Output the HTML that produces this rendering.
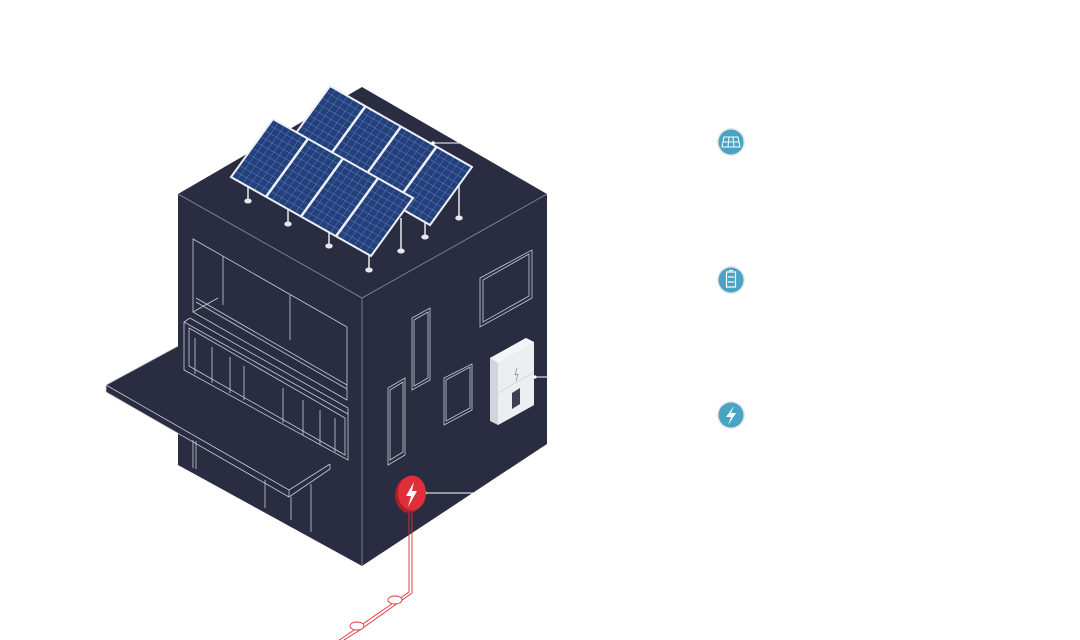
<!DOCTYPE html>
<html><head><meta charset="utf-8"><style>
html,body{margin:0;padding:0;background:#fff;width:1080px;height:640px;overflow:hidden}
svg{display:block}
</style></head><body>
<svg width="1080" height="640" viewBox="0 0 1080 640" xmlns="http://www.w3.org/2000/svg">
<!-- building -->
<polygon points="178,194 362,87 547,194 547,444 362,566 178,465" fill="#2a2d42"/>
<line x1="362" y1="298" x2="362" y2="566" stroke="#8a8da0" stroke-width="0.8"/>
<polyline points="178,194 362,298 547,194" fill="none" stroke="#8a8da0" stroke-width="0.8"/>
<!-- canopy (behind bay box) -->
<polygon points="106,385 178,346 330,464 330,469 289,497 106,392" fill="#2a2d42"/>
<polyline points="178,346 106,385 289,490 330,464" fill="none" stroke="#c9cbd6" stroke-width="0.8"/>
<polyline points="106,385 106,392 289,497 330,469 330,464" fill="none" stroke="#c9cbd6" stroke-width="0.8"/>
<line x1="289" y1="490" x2="289" y2="497" stroke="#c9cbd6" stroke-width="0.8"/>
<g fill="none" stroke="#c9cbd6" stroke-width="0.8">
<!-- left wall upper window -->
<polygon points="193,239 347,327 347,400 193,312"/>
<line x1="223" y1="256" x2="223" y2="305"/>
<line x1="290" y1="295" x2="290" y2="340"/>
<line x1="196" y1="298" x2="347" y2="385"/>
<line x1="196" y1="302" x2="347" y2="389"/>
<line x1="193" y1="312" x2="218" y2="298"/>
</g>
<!-- bay box -->
<polygon points="184,322 190,318 348,408 348,462 330,464 184,372" fill="#2a2d42"/>
<g fill="none" stroke="#c9cbd6" stroke-width="0.8">
<polygon points="184,322 348,414 348,460 184,370"/>
<polygon points="189,328 345,418 345,455 189,366"/>
<line x1="184" y1="322" x2="190" y2="318"/>
<line x1="190" y1="318" x2="348" y2="408"/>
<line x1="348" y1="408" x2="348" y2="414"/>
<line x1="195" y1="338" x2="195" y2="374"/>
<line x1="212" y1="347" x2="212" y2="383"/>
<line x1="230" y1="357" x2="230" y2="393"/>
<line x1="244" y1="366" x2="244" y2="400"/>
<line x1="283" y1="388" x2="283" y2="423"/>
<line x1="303" y1="400" x2="303" y2="435"/>
<line x1="320" y1="410" x2="320" y2="445"/>
<line x1="335" y1="418" x2="335" y2="452"/>
<!-- right wall windows -->
<polygon points="480,278 532,250 532,298 480,327"/>
<polygon points="483,280 529,254 529,296 483,322"/>
<polygon points="412,318 430,308 430,380 412,390"/>
<polygon points="414,320 428,312 428,378 414,386"/>
<polygon points="388,388 405,378 405,455 388,465"/>
<polygon points="390,390 403,382 403,452 390,460"/>
<polygon points="444,378 472,364 472,410 444,425"/>
<polygon points="446,380 470,367 470,408 446,421"/>
<!-- ground floor lines -->
<line x1="193" y1="440" x2="193" y2="468"/>
<line x1="196" y1="441" x2="196" y2="469"/>
<line x1="265" y1="480" x2="265" y2="508"/>
<line x1="291" y1="497" x2="291" y2="520"/>
<line x1="311" y1="484" x2="311" y2="532"/>
</g>
<!-- legs -->
<g stroke="#e6e8ee" stroke-width="1.5" fill="#e6e8ee">
<line x1="248" y1="182" x2="248" y2="200"/><ellipse cx="248" cy="201" rx="3" ry="1.8"/>
<line x1="288" y1="205" x2="288" y2="223"/><ellipse cx="288" cy="224" rx="3" ry="1.8"/>
<line x1="329" y1="228" x2="329" y2="245"/><ellipse cx="329" cy="246" rx="3" ry="1.8"/>
<line x1="369" y1="252" x2="369" y2="269"/><ellipse cx="369" cy="270" rx="3" ry="1.8"/>
<line x1="401" y1="218" x2="401" y2="250"/><ellipse cx="401" cy="251" rx="3" ry="1.8"/>
<line x1="425" y1="215" x2="425" y2="236"/><ellipse cx="425" cy="237" rx="3" ry="1.8"/>
<line x1="459" y1="185" x2="459" y2="217"/><ellipse cx="459" cy="218" rx="3" ry="1.8"/>
</g>
<!-- back row panels -->
<g transform="matrix(142,81,-42,58,330,86)">
<rect x="0" y="0" width="1" height="1" fill="#22407c"/>
<path vector-effect="non-scaling-stroke" stroke="#6f86b8" stroke-width="0.5" d="M0.0417,0V1M0.0833,0V1M0.125,0V1M0.1667,0V1M0.2083,0V1M0.2917,0V1M0.3333,0V1M0.375,0V1M0.4167,0V1M0.4583,0V1M0.5417,0V1M0.5833,0V1M0.625,0V1M0.6667,0V1M0.7083,0V1M0.7917,0V1M0.8333,0V1M0.875,0V1M0.9167,0V1M0.9583,0V1M0,0.1H1M0,0.2H1M0,0.3H1M0,0.4H1M0,0.5H1M0,0.6H1M0,0.7H1M0,0.8H1M0,0.9H1"/>
<path vector-effect="non-scaling-stroke" d="M0.25,0V1M0.5,0V1M0.75,0V1" stroke="#eef0f5" stroke-width="2.5"/>
<rect vector-effect="non-scaling-stroke" x="0" y="0" width="1" height="1" fill="none" stroke="#eef0f5" stroke-width="2"/>
</g>
<!-- front row panels -->
<g transform="matrix(140,79,-42,58,273,119)">
<rect x="0" y="0" width="1" height="1" fill="#22407c"/>
<path vector-effect="non-scaling-stroke" stroke="#6f86b8" stroke-width="0.5" d="M0.0417,0V1M0.0833,0V1M0.125,0V1M0.1667,0V1M0.2083,0V1M0.2917,0V1M0.3333,0V1M0.375,0V1M0.4167,0V1M0.4583,0V1M0.5417,0V1M0.5833,0V1M0.625,0V1M0.6667,0V1M0.7083,0V1M0.7917,0V1M0.8333,0V1M0.875,0V1M0.9167,0V1M0.9583,0V1M0,0.1H1M0,0.2H1M0,0.3H1M0,0.4H1M0,0.5H1M0,0.6H1M0,0.7H1M0,0.8H1M0,0.9H1"/>
<path vector-effect="non-scaling-stroke" d="M0.25,0V1M0.5,0V1M0.75,0V1" stroke="#eef0f5" stroke-width="2.5"/>
<rect vector-effect="non-scaling-stroke" x="0" y="0" width="1" height="1" fill="none" stroke="#eef0f5" stroke-width="2"/>
</g>
<!-- solar connector -->
<line x1="433" y1="143" x2="462" y2="143" stroke="#fff" stroke-width="1"/>
<circle cx="433" cy="143" r="1.8" fill="#fff"/>
<!-- inverter -->
<polygon points="490,358 526,338 534,342 534,405 498,425 490,421" fill="#d2d6dc"/>
<polygon points="498,363 534,342 534,405 498,425" fill="#eceef1"/>
<polygon points="490,358 526,338 534,342 498,363" fill="#f4f5f7"/>
<line x1="498" y1="393" x2="534" y2="372" stroke="#c4c8cf" stroke-width="0.6"/>
<polygon points="512,393 520,388 520,404 512,409" fill="#3a4252"/>
<polyline points="517,368 515,375 518,374 516,381" fill="none" stroke="#888" stroke-width="0.7"/>
<line x1="535" y1="377" x2="547" y2="377" stroke="#fff" stroke-width="1"/>
<circle cx="535" cy="377" r="1.6" fill="#fff"/>
<!-- meter -->
<line x1="425" y1="493" x2="474" y2="493" stroke="#fff" stroke-width="1"/>
<circle cx="425" cy="493" r="1.6" fill="#fff"/>
<g fill="none" stroke="#e0303a" stroke-width="0.9">
<polyline points="409,510 409,592 357,628 332,645"/>
<polyline points="412,510 412,593 360,630 336,645"/>
<ellipse cx="395" cy="600" rx="7" ry="4" fill="#fff"/>
<ellipse cx="357" cy="626" rx="7" ry="4" fill="#fff"/>
</g>
<ellipse cx="409" cy="495" rx="14" ry="18" fill="#a8202a"/>
<ellipse cx="412" cy="493" rx="14" ry="17.5" fill="#df2f3a"/>
<polygon points="414,482 406,496 411,496 408,507 417,491 412,491" fill="#fff"/>
<!-- icons -->
<g>
<circle cx="731" cy="142" r="14" fill="#e6e6e6"/><circle cx="731" cy="142" r="12.5" fill="#49a3c4"/>
<g stroke="#fff" stroke-width="1" fill="none"><polygon points="724,137 738,137 740,147 722,147"/><line x1="723" y1="142" x2="739" y2="142"/><line x1="729" y1="137" x2="728" y2="147"/><line x1="733" y1="137" x2="734" y2="147"/></g>
<circle cx="731" cy="280" r="14" fill="#e6e6e6"/><circle cx="731" cy="280" r="12.5" fill="#49a3c4"/>
<g stroke="#fff" stroke-width="1.2" fill="none"><rect x="726.5" y="272" width="9" height="15"/><line x1="729" y1="270.5" x2="733" y2="270.5"/><line x1="728" y1="277" x2="734" y2="277"/><line x1="728" y1="282" x2="734" y2="282"/></g>
<circle cx="731" cy="415" r="14" fill="#e6e6e6"/><circle cx="731" cy="415" r="12.5" fill="#49a3c4"/>
<polygon points="734,406 726,417 731,417 728,425 736,413 731,413" fill="#fff"/>
</g>
</svg>
</body></html>
